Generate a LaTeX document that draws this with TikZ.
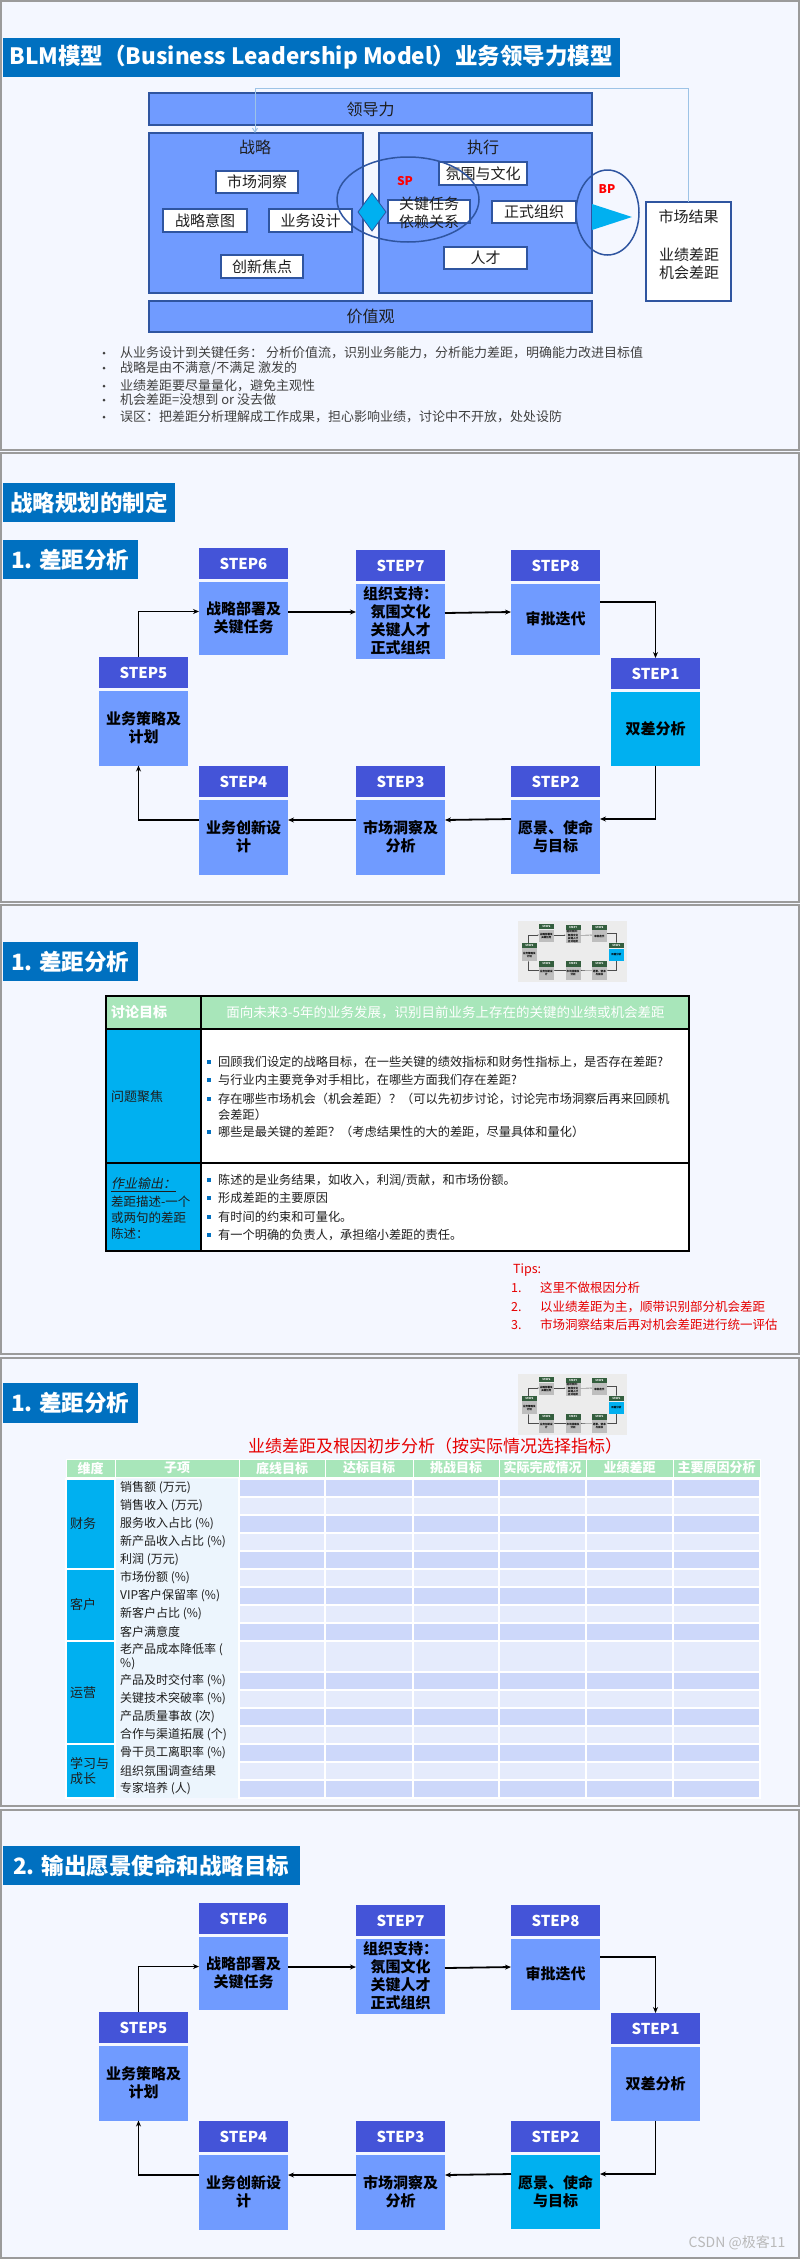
\documentclass[tikz,border=0pt]{standalone}
\usepackage{fontspec}
\setmainfont{Noto Sans CJK SC}
\newfontfamily\slantfont{Noto Sans CJK SC}[FakeSlant=0.2]
\usetikzlibrary{shapes.geometric,arrows.meta}
\definecolor{pagebg}{RGB}{244,247,255}
\definecolor{framegrey}{RGB}{155,155,155}
\definecolor{tblue}{RGB}{0,112,192}
\definecolor{boxblue}{RGB}{112,155,255}
\definecolor{bdr}{RGB}{47,85,160}
\definecolor{stephd}{RGB}{68,84,216}
\definecolor{stepfill}{RGB}{112,155,255}
\definecolor{cyanc}{RGB}{0,176,240}
\definecolor{greenh}{RGB}{168,230,186}
\definecolor{textgrey}{RGB}{64,64,64}
\definecolor{darktxt}{RGB}{30,30,30}
\definecolor{fbblue}{RGB}{157,195,230}
\definecolor{rowA}{RGB}{205,216,250}
\definecolor{rowB}{RGB}{229,235,252}
\definecolor{subc}{RGB}{236,245,253}
\definecolor{tipred}{RGB}{230,0,0}
\definecolor{thumbbg}{RGB}{236,236,236}
\definecolor{thumbhd}{RGB}{52,94,62}
\definecolor{thumbbd}{RGB}{190,190,190}
\definecolor{wmgrey}{RGB}{185,185,185}
\newcommand\fsz[2]{\fontsize{#1}{#2}\selectfont}
% rectangle node from corners: style, name, x1, y1, x2, y2, text
\newcommand\RN[7]{\node[#1, minimum width={(#5)-(#3)}, minimum height={(#6)-(#4)}] (#2) at ({((#3)+(#5))/2},{((#4)+(#6))/2}) {#7};}
\newcommand\StepBox[8]{%
  \node[stephdr, anchor=north west] (#1) at (#3,#4) {#6};
  \node[stepbody, fill=#8, minimum height=#5, anchor=north west] (#2) at (#3,#4+33.5) {#7};}
\newcommand\StepDiagram[3]{%
  \StepBox{#1h6}{#1b6}{199}{548}{73}{STEP6}{战略部署及\\关键任务}{stepfill}
  \StepBox{#1h7}{#1b7}{356}{550}{75}{STEP7}{组织支持：\\氛围文化\\关键人才\\正式组织}{stepfill}
  \StepBox{#1h8}{#1b8}{511}{550}{71}{STEP8}{审批迭代}{stepfill}
  \StepBox{#1h5}{#1b5}{99}{657}{75}{STEP5}{业务策略及\\计划}{stepfill}
  \StepBox{#1h1}{#1b1}{611}{658}{74}{STEP1}{双差分析}{#2}
  \StepBox{#1h4}{#1b4}{199}{766}{75}{STEP4}{业务创新设\\计}{stepfill}
  \StepBox{#1h3}{#1b3}{356}{766}{75}{STEP3}{市场洞察及\\分析}{stepfill}
  \StepBox{#1h2}{#1b2}{511}{766}{74}{STEP2}{愿景、使命\\与目标}{#3}
  \draw[conn] ([xshift=-5pt]#1h5.north) |- ([yshift=6.5pt]#1b6.west);
  \draw[conn] ([yshift=6pt]#1b6.east) -- ([yshift=9pt]#1b7.west);
  \draw[conn] ([yshift=8pt]#1b7.east) -- ([yshift=7pt]#1b8.west);
  \draw[conn] ([yshift=17pt]#1b8.east) -| (#1h1.north);
  \draw[conn] (#1b1.south) |- ([yshift=17.5pt]#1b2.east);
  \draw[conn] ([yshift=17.5pt]#1b2.west) -- ([yshift=17pt]#1b3.east);
  \draw[conn] ([yshift=17pt]#1b3.west) -- ([yshift=17pt]#1b4.east);
  \draw[conn] ([yshift=17pt]#1b4.west) -| ([xshift=-5pt]#1b5.south);
}
\tikzset{
  panelframe/.style={draw=framegrey, line width=2pt},
  titlebar/.style={fill=tblue, text=white, font=\fsz{22.5}{27}\bfseries, inner sep=0pt, outer sep=0pt},
  blmbox/.style={fill=boxblue, draw=bdr, line width=1.5pt, inner sep=0pt, outer sep=0pt, font=\fsz{16}{19}, text=darktxt},
  wbox/.style={fill=white, draw=bdr, line width=2pt, inner sep=0pt, outer sep=0pt, font=\fsz{15}{18}, text=darktxt},
  txt/.style={inner sep=0pt, outer sep=0pt},
  bul/.style={anchor=west, inner sep=0pt, font=\fsz{13}{15}, text=textgrey},
  dot/.style={circle, fill=textgrey, inner sep=0pt, minimum size=3pt},
  stephdr/.style={fill=stephd, minimum width=89pt, minimum height=31pt, inner sep=0pt, outer sep=0pt, text=white, font=\fsz{15}{18}\bfseries},
  stepbody/.style={minimum width=89pt, inner sep=0pt, outer sep=0pt, text=black, align=center, font=\fsz{15}{18}\bfseries},
  conn/.style={draw=black, line width=1.8pt, -{Stealth[length=6pt,width=5pt]}},
  fbl/.style={draw=fbblue, line width=1pt, -{Straight Barb[length=4pt,width=5pt]}},
  tcell/.style={draw=black, line width=1.2pt, inner sep=0pt, outer sep=0pt},
  rowtxt/.style={anchor=west, inner sep=0pt, font=\fsz{12.2}{15}, text=darktxt},
  sq/.style={fill=tblue, minimum size=3.5pt, inner sep=0pt},
  tiptxt/.style={anchor=west, inner sep=0pt, font=\fsz{12.5}{15}, text=tipred},
  hdcell/.style={fill=greenh, draw=white, line width=1pt, inner sep=0pt, outer sep=0pt, text=white, font=\fsz{13}{15}\bfseries},
  dcell/.style={draw=white, line width=1.2pt, inner sep=0pt, outer sep=0pt},
  dimcell/.style={fill=cyanc, draw=white, line width=1.5pt, inner sep=0pt, outer sep=0pt},
  sublbl/.style={anchor=west, align=left, inner sep=0pt, font=\fsz{12}{13.5}, text=darktxt},
  dimlbl/.style={anchor=west, align=left, inner sep=0pt, font=\fsz{13}{14.3}, text=darktxt},
}
\begin{document}
\begin{tikzpicture}[x=1pt,y=-1pt]
\useasboundingbox (0,0) rectangle (800,2259);
\fill[pagebg] (0,0) rectangle (800,2259);
\draw[panelframe] (1,1) rectangle (799,449.5);
\draw[panelframe] (1,452.5) rectangle (799,901.5);
\draw[panelframe] (1,905) rectangle (799,1354);
\draw[panelframe] (1,1357.5) rectangle (799,1806);
\draw[panelframe] (1,1809.5) rectangle (799,2257.5);

%% ---------------- Panel 1 : BLM ----------------
\RN{titlebar}{t1}{2.5}{38}{620}{77}{BLM模型（Business Leadership Model）业务领导力模型}
\RN{blmbox}{ld}{149}{93}{592}{125}{领导力}
\RN{blmbox}{zl}{149}{133}{363}{293}{}
\RN{blmbox}{zx}{379}{133}{592}{293}{}
\RN{blmbox}{jz}{149}{301}{592}{332}{价值观}
\node[txt, font=\fsz{16}{19}, text=darktxt] (zlt) at (255,147) {战略};
\node[txt, font=\fsz{16}{19}, text=darktxt] (zxt) at (483,147) {执行};
\RN{wbox}{w1}{216}{171}{298}{193}{市场洞察}
\RN{wbox}{w2}{163}{209}{247}{232}{战略意图}
\RN{wbox}{w3}{269}{209}{352}{232}{业务设计}
\RN{wbox}{w4}{221}{255}{303}{278}{创新焦点}
\RN{wbox}{w5}{439}{162}{527}{185}{氛围与文化}
\RN{wbox}{w6}{388}{200}{470}{223}{}
\node[txt, align=center, font=\fsz{15}{18}, text=darktxt] (w6t) at (429,213) {关键任务\\依赖关系};
\RN{wbox}{w7}{492}{201}{576}{223}{正式组织}
\RN{wbox}{w8}{444}{247}{527}{269}{人才}
\filldraw[fill=cyanc, draw=bdr, line width=0.8pt] (358,212) -- (372,193) -- (386,212) -- (372,231) -- cycle;
\node[ellipse, draw=bdr, line width=1.5pt, minimum width=142pt, minimum height=85pt, inner sep=0pt] (spe) at (408,199.5) {};
\node[txt, text=red, font=\fsz{12}{14}\bfseries] (spt) at (405,181) {SP};
\fill[cyanc] (592,204) -- (632,217) -- (592,230) -- cycle;
\node[ellipse, draw=bdr, line width=1.5pt, minimum width=63pt, minimum height=85pt, inner sep=0pt] (bpe) at (607.5,212.5) {};
\node[txt, text=red, font=\fsz{12}{14}\bfseries] (bpt) at (607,189) {BP};
\RN{wbox}{mr}{646}{202}{731}{301}{}
\node[txt, font=\fsz{15}{18}, text=darktxt] (mrt) at (688.5,217) {市场结果};
\node[txt, align=center, font=\fsz{15}{18}, text=darktxt] (mrg) at (689,264) {业绩差距\\机会差距};
\coordinate (fb) at (255,88);
\draw[fbl] (mr.north) |- (fb) -- (fb |- zl.north);

\node[dot] (d1) at (104,353) {};
\node[bul] (u1) at (120,353) {从业务设计到关键任务：\ 分析价值流，识别业务能力，分析能力差距，明确能力改进目标值};
\node[dot] (d2) at (104,368) {};
\node[bul] (u2) at (120,368) {战略是由不满意/不满足\ 激发的};
\node[dot] (d3) at (104,386) {};
\node[bul] (u3) at (120,386) {业绩差距要尽量量化，避免主观性};
\node[dot] (d4) at (104,400) {};
\node[bul] (u4) at (120,400) {机会差距=没想到\ or 没去做};
\node[dot] (d5) at (104,417) {};
\node[bul] (u5) at (120,417) {误区：把差距分析理解成工作成果，担心影响业绩，讨论中不开放，处处设防};

%% ---------------- Panel 2 ----------------
\RN{titlebar}{t2}{2.5}{483}{175}{522}{战略规划的制定}
\RN{titlebar}{t2b}{2.5}{540}{138}{579}{1. 差距分析}
\StepDiagram{a}{cyanc}{stepfill}

%% ---------------- Panel 3 ----------------
\RN{titlebar}{t3}{2.5}{942}{138}{981}{1. 差距分析}
\RN{txt, fill=thumbbg}{th1}{518}{921}{627}{982}{}
\begin{scope}[shift={(505,831)}, scale=0.17, transform shape, conn/.style={draw=black!70, line width=0.3pt, -{Stealth[length=1.2pt,width=1pt]}}]
  \colorlet{stephd}{thumbhd}\colorlet{stepfill}{thumbbd}
  \StepDiagram{p}{cyanc}{stepfill}
\end{scope}
\RN{tcell, fill=greenh}{c11}{106}{996}{201}{1029}{}
\RN{tcell, fill=greenh}{c12}{201}{996}{689}{1029}{}
\RN{tcell, fill=cyanc}{c21}{106}{1029}{201}{1163}{}
\RN{tcell, fill=white}{c22}{201}{1029}{689}{1163}{}
\RN{tcell, fill=cyanc}{c31}{106}{1163}{201}{1251}{}
\RN{tcell, fill=white}{c32}{201}{1163}{689}{1251}{}
\draw[line width=2pt] (c11.north west) rectangle (c32.south east);
\node[txt, anchor=west, text=white, font=\fsz{14}{17}\bfseries] (c11t) at (111,1012.5) {讨论目标};
\node[txt, text=white, font=\fsz{13.5}{16}] (c12t) at (445.5,1012.5) {面向未来3-5年的业务发展，识别目前业务上存在的关键的业绩或机会差距};
\node[txt, anchor=west, font=\fsz{13}{16}, text=darktxt] (c21t) at (111,1097) {问题聚焦};
\node[sq] (q1) at (209,1062) {};
\node[rowtxt] (r1) at (218,1062) {回顾我们设定的战略目标，在一些关键的绩效指标和财务性指标上，是否存在差距?};
\node[sq] (q2) at (209,1080) {};
\node[rowtxt] (r2) at (218,1080) {与行业内主要竞争对手相比，在哪些方面我们存在差距?};
\node[sq] (q3) at (209,1099) {};
\node[rowtxt] (r3) at (218,1099) {存在哪些市场机会（机会差距）？（可以先初步讨论，讨论完市场洞察后再来回顾机};
\node[rowtxt] (r3b) at (218,1115) {会差距）};
\node[sq] (q4) at (209,1132) {};
\node[rowtxt] (r4) at (218,1132) {哪些是最关键的差距？（考虑结果性的大的差距，尽量具体和量化）};
\node[txt, anchor=west, font=\fsz{13}{16}, text=darktxt] (c31a) at (111,1185) {\slantfont\underline{作业输出：}};
\node[txt, anchor=west, font=\fsz{12.5}{15}, text=darktxt] (c31b) at (111,1202) {差距描述-一个};
\node[txt, anchor=west, font=\fsz{12.5}{15}, text=darktxt] (c31c) at (111,1218) {或两句的差距};
\node[txt, anchor=west, font=\fsz{12.5}{15}, text=darktxt] (c31d) at (111,1234) {陈述：};
\node[sq] (q5) at (209,1180) {};
\node[rowtxt] (r5) at (218,1180) {陈述的是业务结果，如收入，利润/贡献，和市场份额。};
\node[sq] (q6) at (209,1198) {};
\node[rowtxt] (r6) at (218,1198) {形成差距的主要原因};
\node[sq] (q7) at (209,1217) {};
\node[rowtxt] (r7) at (218,1217) {有时间的约束和可量化。};
\node[sq] (q8) at (209,1235) {};
\node[rowtxt] (r8) at (218,1235) {有一个明确的负责人，承担缩小差距的责任。};
\node[tiptxt] (tp0) at (513,1270) {Tips:};
\node[tiptxt] (tn1) at (511,1288) {1.};
\node[tiptxt] (tp1) at (540,1288) {这里不做根因分析};
\node[tiptxt] (tn2) at (511,1307) {2.};
\node[tiptxt] (tp2) at (540,1307) {以业绩差距为主，顺带识别部分机会差距};
\node[tiptxt] (tn3) at (511,1325) {3.};
\node[tiptxt] (tp3) at (540,1325) {市场洞察结束后再对机会差距进行统一评估};

%% ---------------- Panel 4 ----------------
\RN{titlebar}{t4}{2.5}{1383}{138}{1423}{1. 差距分析}
\RN{txt, fill=thumbbg}{th2}{518}{1374}{627}{1435}{}
\begin{scope}[shift={(505,1284)}, scale=0.17, transform shape, conn/.style={draw=black!70, line width=0.3pt, -{Stealth[length=1.2pt,width=1pt]}}]
  \colorlet{stephd}{thumbhd}\colorlet{stepfill}{thumbbd}
  \StepDiagram{q}{cyanc}{stepfill}
\end{scope}
\node[txt, text=tipred, font=\fsz{17}{20}] (tt4) at (435,1446) {业绩差距及根因初步分析（按实际情况选择指标）};
\foreach \xa/\xb/\tx [count=\k] in {66/115/维度, 115/239/子项, 239/325/底线目标, 325/413/达标目标, 413/499/挑战目标, 499/586/实际完成情况, 586/673/业绩差距, 673/760/主要原因分析}
  {\RN{hdcell}{hc\k}{\xa}{1459}{\xb}{1477}{\tx}}
\RN{txt, fill=subc}{sc}{115}{1479}{239}{1798}{}
\foreach \ya/\yb/\col [count=\r] in {1479/1497/rowA, 1497/1515/rowB, 1515/1533/rowA, 1533/1551/rowB, 1551/1569/rowA, 1569/1587/rowB, 1587/1605/rowA, 1605/1623/rowB, 1623/1641/rowA, 1641/1672/rowB, 1672/1690/rowA, 1690/1708/rowB, 1708/1726/rowA, 1726/1744/rowB, 1744/1762/rowA, 1762/1780/rowB, 1780/1798/rowA}
  {\foreach \xa/\xb [count=\k] in {239/325, 325/413, 413/499, 499/586, 586/673, 673/760}
    {\RN{dcell, fill=\col}{dc\r-\k}{\xa}{\ya}{\xb}{\yb}{}}}
\RN{dimcell}{g1}{66}{1479}{115}{1569}{}
\RN{dimcell}{g2}{66}{1569}{115}{1641}{}
\RN{dimcell}{g3}{66}{1641}{115}{1744}{}
\RN{dimcell}{g4}{66}{1744}{115}{1798}{}
\node[dimlbl] (g1t) at (70,1524) {财务};
\node[dimlbl] (g2t) at (70,1605) {客户};
\node[dimlbl] (g3t) at (70,1692.5) {运营};
\node[dimlbl] (g4t) at (70,1771) {学习与\\成长};
\foreach \yy/\tx [count=\k] in {1488/{销售额 (万元)}, 1506/{销售收入 (万元)}, 1524/{服务收入占比 (\%)}, 1542/{新产品收入占比 (\%)}, 1560/{利润 (万元)}, 1578/{市场份额 (\%)}, 1596/{VIP客户保留率 (\%)}, 1614/{新客户占比 (\%)}, 1632/{客户满意度}, 1681/{产品及时交付率 (\%)}, 1699/{关键技术突破率 (\%)}, 1717/{产品质量事故 (次)}, 1735/{合作与渠道拓展 (个)}, 1753/{骨干员工离职率 (\%)}, 1771/{组织氛围调查结果}, 1789/{专家培养 (人)}}
  {\node[sublbl] (sl\k) at (120,\yy) {\tx};}
\node[sublbl] (slx) at (120,1656.5) {老产品成本降低率 (\\\%)};

%% ---------------- Panel 5 ----------------
\RN{titlebar}{t5}{2.5}{1846}{300}{1885}{2. 输出愿景使命和战略目标}
\begin{scope}[shift={(0,1355)}]
  \StepDiagram{c}{stepfill}{cyanc}
\end{scope}
\node[txt, text=wmgrey, font=\fsz{14}{16}] (wm) at (737,2243) {CSDN @极客11};
\end{tikzpicture}
\end{document}
